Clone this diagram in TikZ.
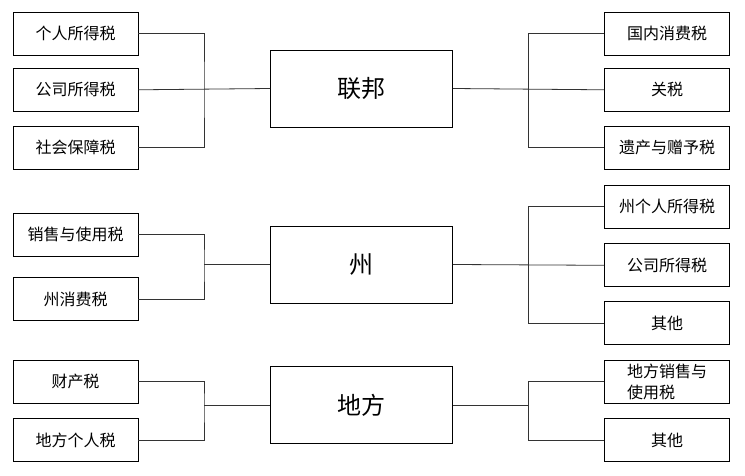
\documentclass[tikz,border=0pt]{standalone}
\usepackage{fontspec}
\newfontfamily\cjk{Noto Sans CJK SC}
\usetikzlibrary{positioning}

\begin{document}
\begin{tikzpicture}[
    x=1pt, y=-1pt,
    line width=0.8pt,
    font=\cjk\fontsize{16}{21}\selectfont,
    level/.style={
		rectangle,
		draw=black,
		text centered,
		minimum width=182pt,
		minimum height=77pt,
		inner sep=0pt,
		font=\cjk\fontsize{24}{28}\selectfont
	},
	tax/.style={
		rectangle,
		draw=black,
		text centered,
		minimum width=125pt,
		minimum height=43pt,
		inner sep=0pt
	},
	link/.style={
		draw=black!80
	}
  ]
  \useasboundingbox (0,0) rectangle (745,476);

  % We start by placing the three levels
  \node [level] (fed) at (361.5,88.5) {联邦};
  \node [level] (st) at (361.5,264.5) {州};
  \node [level] (loc) at (361.5,405) {地方};

  % federal taxes
  \node [tax] (pit) at (75.5,33.5) {个人所得税};
  \node [tax, below=12.5pt of pit] (cit) {公司所得税};
  \node [tax, below=14pt of cit] (sst) {社会保障税};

  \node [tax] (excise) at (667,33.5) {国内消费税};
  \node [tax, below=12.5pt of excise] (tariff) {关税};
  \node [tax, below=14pt of tariff] (estate) {遗产与赠予税};

  % state taxes
  \node [tax] (sales) at (75.5,234.5) {销售与使用税};
  \node [tax, below=21pt of sales] (stexcise) {州消费税};

  \node [tax] (stpit) at (667,206.5) {州个人所得税};
  \node [tax, below=15pt of stpit] (stcit) {公司所得税};
  \node [tax, below=14pt of stcit] (stother) {其他};

  % local taxes
  \node [tax] (prop) at (75.5,381.5) {财产税};
  \node [tax, below=15pt of prop] (locpit) {地方个人税};

  \node [tax, text width=80pt, align=left] (locsales) at (667,381.5) {地方销售与\\使用税};
  \node [tax, below=15pt of locsales] (locother) {其他};

  % bracket joints
  \coordinate (jfedl) at (204,89);
  \coordinate (jfedr) at (528.5,89);
  \coordinate (jstl) at (204,264.5);
  \coordinate (jstr) at (528.5,264.5);
  \coordinate (jlocl) at (204,405);
  \coordinate (jlocr) at (528.5,405);

  \draw [link] (pit.east) -| (jfedl) |- (sst.east);
  \draw [link] (cit.east) -- (fed.west);
  \draw [link] (excise.west) -| (jfedr) |- (estate.west);
  \draw [link] (fed.east) -- (tariff.west);

  \draw [link] (sales.east) -| (jstl) |- (stexcise.east);
  \draw [link] (jstl) -- (st.west);
  \draw [link] (stpit.west) -| (jstr) |- (stother.west);
  \draw [link] (st.east) -- (stcit.west);

  \draw [link] (prop.east) -| (jlocl) |- (locpit.east);
  \draw [link] (jlocl) -- (loc.west);
  \draw [link] (locsales.west) -| (jlocr) |- (locother.west);
  \draw [link] (loc.east) -- (jlocr);

\end{tikzpicture}
\end{document}
